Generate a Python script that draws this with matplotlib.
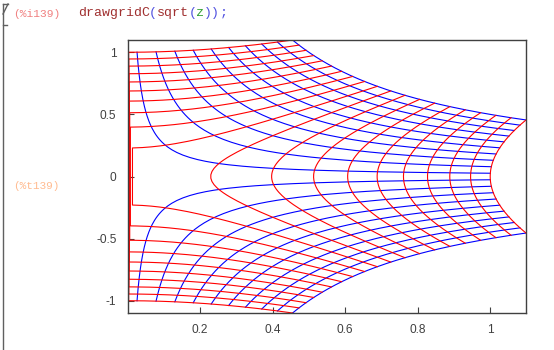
import numpy as np
import matplotlib
matplotlib.use("Agg")
import matplotlib.pyplot as plt
from matplotlib.lines import Line2D

plt.rcParams["axes.unicode_minus"] = False

# grid of the z-plane that drawgridC maps through sqrt
grid_re = [-1.0, -0.8947, -0.7895, -0.6842, -0.5789, -0.4737, -0.3684, -0.2632,
           -0.1579, -0.0526, 0.0526, 0.1579, 0.2632, 0.3684, 0.4737, 0.5789,
           0.6842, 0.7895, 0.8947, 1.0]
grid_im = [-1.0, -0.8947, -0.7895, -0.6842, -0.5789, -0.4737, -0.3684, -0.2632,
           -0.1579, -0.0526, 0.0526, 0.1579, 0.2632, 0.3684, 0.4737, 0.5789,
           0.6842, 0.7895, 0.8947, 1.0]
x_ticks = [0.2, 0.4, 0.6, 0.8, 1]
y_ticks = [-1, -0.5, 0, 0.5, 1]

W, H = 554, 350
fig = plt.figure(figsize=(W / 100, H / 100), dpi=100)
ax = fig.add_axes([127.5 / W, 1 - 313 / H, (526 - 127.5) / W, (313 - 40) / H])

t = np.linspace(-1, 1, 160)

# images of horizontal lines (blue)
for b in grid_im:
    w = np.sqrt(t + 1j * b)
    ax.plot(w.real, w.imag, color="#0000ff", lw=0.8)

# images of vertical lines (red)
for a in grid_re:
    w = np.sqrt(a + 1j * t)
    ax.plot(w.real, w.imag, color="#ff0000", lw=0.8)

ax.set_xlim(0, 1.0987)
ax.set_ylim(-1.0987, 1.0987)
ax.set_xticks(x_ticks)
ax.set_yticks(y_ticks)
ax.set_xticklabels(["%g" % v for v in x_ticks])
ax.set_yticklabels(["%g" % v for v in y_ticks])
ax.tick_params(direction="in", length=4, width=0.8, colors="#404040",
               labelsize=8.6, labelcolor="#404040", pad=8)
for s in ax.spines.values():
    s.set_color("#404040")
    s.set_linewidth(1.0)
for lab in ax.get_xticklabels() + ax.get_yticklabels():
    lab.set_family("Liberation Sans")

# wxMaxima cell decoration
def px(x, y):
    return x / W, 1 - y / H

mono = "Liberation Mono"
fig.text(*px(13.3, 14), "(%i139)", family=mono, fontsize=8.1,
         color="#f08080", va="center")
fig.text(*px(13.3, 186), "(%t139)", family=mono, fontsize=7.9,
         color="#ffbb90", va="center")

tokens = [("drawgridC", "#a03030"), ("(", "#5050e0"), ("sqrt", "#a03030"),
          ("(", "#5050e0"), ("z", "#30a030"), ("))", "#5050e0"), (";", "#5050e0")]
cw = 7.9
x0 = 77.7
for s, c in tokens:
    fig.text(*px(x0, 13), s, family=mono, fontsize=9.5, color=c, va="center")
    x0 += cw * len(s)

bc = "#606060"
for (xa, ya), (xb, yb) in [((3, 4), (3, 350)), ((3, 4), (8, 4)),
                           ((3, 14), (8, 4)), ((3, 25), (7, 25))]:
    (fx1, fy1), (fx2, fy2) = px(xa, ya), px(xb, yb)
    fig.add_artist(Line2D([fx1, fx2], [fy1, fy2], color=bc, lw=1.0))

fig.savefig("out.png", dpi=100)
